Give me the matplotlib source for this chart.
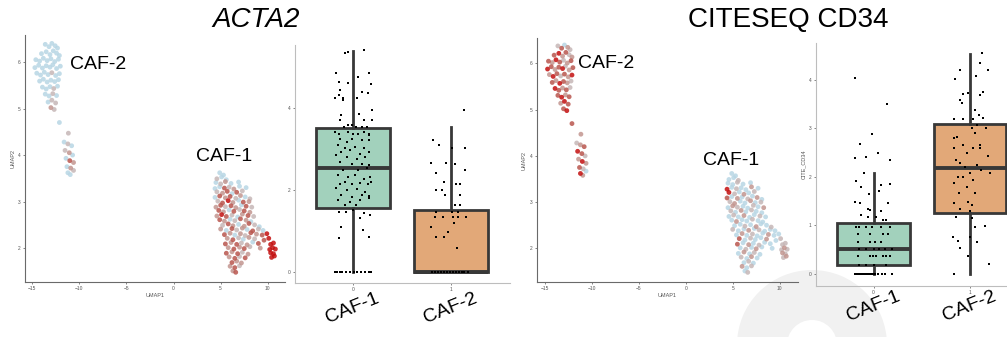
import numpy as np
import matplotlib.pyplot as plt
from matplotlib.colors import LinearSegmentedColormap
from matplotlib.patches import Wedge
from matplotlib.transforms import IdentityTransform, blended_transform_factory

plt.rcParams['font.family'] = ['Liberation Sans', 'DejaVu Sans']

# ------------------------------------------------------------
# UMAP coordinates (same cells in both feature plots)
# ------------------------------------------------------------
caf2_x = [-13.6, -13.2, -12.9, -12.55, -12.3,
          -14.0, -13.5, -13.1, -12.75, -12.4, -12.1,
          -14.6, -14.2, -13.8, -13.4, -13.0, -12.6, -12.2,
          -14.7, -14.3, -13.9, -13.5, -13.1, -12.8, -12.4, -12.0,
          -14.5, -14.1, -13.7, -13.3, -12.9, -12.5, -12.1,
          -14.2, -13.8, -13.4, -13.0, -12.6, -12.2,
          -13.9, -13.5, -13.1, -12.7, -12.3,
          -13.6, -13.2, -12.8, -12.4,
          -13.3, -12.9, -12.5,
          -13.0, -12.65,
          -12.1, -11.15,
          -11.6, -11.2, -10.8, -11.5, -11.05, -10.7, -11.4, -11.0, -10.6,
          -11.3, -10.9, -10.6, -11.2, -10.95]
caf2_y = [6.38, 6.33, 6.40, 6.35, 6.30,
          6.18, 6.22, 6.16, 6.24, 6.19, 6.14,
          6.05, 6.02, 6.08, 6.03, 6.07, 6.01, 6.06,
          5.88, 5.93, 5.87, 5.92, 5.89, 5.94, 5.86, 5.91,
          5.76, 5.72, 5.78, 5.73, 5.77, 5.71, 5.75,
          5.59, 5.63, 5.57, 5.61, 5.58, 5.62,
          5.46, 5.42, 5.47, 5.43, 5.48,
          5.31, 5.27, 5.32, 5.28,
          5.14, 5.18, 5.12,
          5.02, 4.98,
          4.70, 4.47,
          4.28, 4.24, 4.20, 4.10, 4.05, 4.00, 3.93, 3.88, 3.84,
          3.75, 3.72, 3.67, 3.62, 3.58]
caf2_acta2 = [0, 0, 0, 0, 0,
              0, 0, 0, 0, 0, 0,
              0, 0, 0, 0, 0, 0, 0,
              0, 0, 0, 0, 0, 0, 0, 0,
              0, 0, 0, 0, 1, 0, 0,
              0, 0, 0, 0, 0, 0,
              0, 0, 0, 1, 0,
              0, 0, 1, 0,
              0, 1, 1,
              2, 1,
              0, 1,
              0, 1, 0, 1, 2, 0, 0, 3, 2,
              0, 2, 1, 0, 0]
caf2_cd34 = [1, 3, 0, 2, 1,
             3, 4, 2, 3, 1, 2,
             3, 2, 4, 3, 1, 2, 3,
             4, 3, 2, 3, 4, 1, 2, 3,
             2, 4, 3, 1, 3, 2, 4,
             3, 2, 4, 3, 2, 1,
             4, 3, 2, 3, 1,
             3, 4, 2, 3,
             2, 4, 3,
             3, 4,
             3, 2,
             1, 2, 3, 4, 3, 1, 2, 4, 2,
             3, 1, 0, 4, 2]

caf1_x = [4.9, 5.3,
          4.6, 5.1, 5.6,
          4.5, 5.0, 5.5, 6.1, 6.9,
          4.4, 4.9, 5.4, 5.9, 6.4, 7.0, 7.7,
          4.6, 5.2, 5.7, 6.2, 6.7, 7.3,
          4.4, 4.9, 5.5, 6.0, 6.6, 7.1, 7.6, 8.1,
          4.7, 5.2, 5.8, 6.3, 6.9, 7.4, 8.0,
          4.5, 5.0, 5.5, 6.1, 6.6, 7.2, 7.7, 8.3,
          4.8, 5.3, 5.9, 6.4, 7.0, 7.5, 8.1,
          4.6, 5.1, 5.6, 6.2, 6.8, 7.3, 7.9, 8.5,
          4.9, 5.4, 6.0, 6.5, 7.1, 7.7, 8.2,
          5.2, 5.8, 6.3, 6.9, 7.5, 8.0, 8.6, 9.1,
          5.0, 5.6, 6.2, 6.7, 7.3, 7.8, 8.4, 9.0, 9.5,
          5.4, 6.0, 6.5, 7.1, 7.6, 8.2, 8.8, 9.4, 9.9,
          5.7, 6.3, 6.9, 7.4, 8.0, 8.6, 9.6, 10.1,
          5.5, 6.1, 6.7, 7.2, 7.8, 8.4, 9.0, 10.3, 10.6,
          5.8, 6.4, 7.0, 7.5, 8.1, 9.2, 10.2, 10.5, 10.8,
          5.6, 6.2, 6.8, 7.3, 7.9, 10.3, 10.6,
          5.9, 6.5, 7.0, 7.6, 10.4, 10.7,
          6.2, 6.7, 7.2,
          6.0, 6.5, 7.0,
          6.3, 6.6]
caf1_y = [3.62, 3.57,
          3.49, 3.53, 3.47,
          3.41, 3.38, 3.43, 3.39, 3.42,
          3.28, 3.32, 3.29, 3.31, 3.27, 3.33, 3.30,
          3.21, 3.18, 3.22, 3.17, 3.20, 3.23,
          3.09, 3.12, 3.08, 3.11, 3.07, 3.13, 3.10, 3.06,
          3.01, 2.97, 3.02, 2.98, 3.03, 2.99, 3.00,
          2.88, 2.92, 2.89, 2.91, 2.87, 2.93, 2.90, 2.88,
          2.81, 2.78, 2.82, 2.79, 2.83, 2.80, 2.77,
          2.69, 2.72, 2.68, 2.71, 2.67, 2.73, 2.70, 2.68,
          2.61, 2.58, 2.62, 2.59, 2.63, 2.60, 2.57,
          2.49, 2.52, 2.48, 2.51, 2.47, 2.53, 2.50, 2.46,
          2.41, 2.38, 2.42, 2.39, 2.43, 2.40, 2.37, 2.41, 2.38,
          2.29, 2.32, 2.28, 2.31, 2.27, 2.33, 2.30, 2.28, 2.31,
          2.21, 2.18, 2.22, 2.19, 2.23, 2.20, 2.17, 2.21,
          2.09, 2.12, 2.08, 2.11, 2.07, 2.13, 2.10, 2.08, 2.11,
          2.01, 1.98, 2.02, 1.99, 2.03, 2.00, 1.97, 2.01, 1.98,
          1.89, 1.92, 1.88, 1.91, 1.87, 1.90, 1.88,
          1.81, 1.78, 1.82, 1.79, 1.80, 1.83,
          1.69, 1.72, 1.68,
          1.61, 1.58, 1.62,
          1.51, 1.48]
caf1_acta2 = [0, 0,
              1, 0, 0,
              0, 1, 2, 0, 0,
              0, 0, 3, 1, 2, 0, 0,
              1, 2, 3, 0, 3, 1,
              0, 3, 2, 3, 1, 2, 0, 1,
              1, 3, 4, 2, 0, 3, 2,
              2, 3, 1, 3, 2, 0, 3, 1,
              3, 2, 0, 3, 1, 3, 2,
              2, 4, 3, 1, 0, 2, 3, 1,
              3, 2, 0, 1, 3, 2, 0,
              1, 3, 2, 0, 2, 3, 1, 0,
              2, 0, 3, 1, 2, 0, 3, 1, 0,
              3, 2, 0, 2, 1, 3, 2, 3, 4,
              2, 3, 1, 0, 2, 1, 3, 4,
              3, 2, 3, 1, 2, 0, 3, 4, 4,
              2, 3, 2, 3, 1, 2, 4, 4, 4,
              3, 2, 3, 1, 2, 4, 4,
              2, 3, 1, 3, 4, 4,
              3, 2, 2,
              2, 3, 1,
              2, 3]
caf1_cd34 = [0, 0,
             0, 0, 1,
             0, 0, 1, 0, 0,
             4, 0, 1, 0, 0, 2, 0,
             4, 1, 0, 2, 0, 1,
             3, 0, 2, 0, 1, 0, 2, 0,
             1, 2, 0, 0, 2, 0, 1,
             0, 2, 1, 0, 0, 1, 0, 2,
             1, 0, 2, 0, 1, 0, 0,
             0, 1, 0, 2, 0, 0, 1, 0,
             0, 2, 0, 0, 1, 0, 0,
             0, 0, 1, 0, 2, 0, 0, 1,
             1, 0, 0, 2, 0, 1, 0, 0, 0,
             0, 2, 0, 1, 0, 0, 2, 0, 0,
             3, 0, 1, 0, 0, 2, 0, 1,
             3, 0, 2, 0, 1, 0, 0, 1, 1,
             0, 1, 0, 2, 0, 0, 1, 2, 1,
             0, 2, 0, 1, 0, 2, 1,
             1, 0, 2, 0, 1, 2,
             0, 1, 0,
             2, 0, 1,
             0, 1]

# ------------------------------------------------------------
# box plot summaries and jittered cells
# ------------------------------------------------------------
groups = ["CAF-1", "CAF-2"]
cluster_ids = ["0", "1"]

acta2_q1 = [1.56, 0.0]
acta2_med = [2.54, 0.0]
acta2_q3 = [3.51, 1.51]
acta2_lo = [0.0, 0.0]
acta2_hi = [5.39, 3.54]

cd34_q1 = [0.19, 1.26]
cd34_med = [0.52, 2.19]
cd34_q3 = [1.05, 3.09]
cd34_lo = [0.0, 0.0]
cd34_hi = [2.08, 4.54]

acta2_caf1_jit = [-0.08, -0.05, 0.11, -0.17, 0.17, -0.14, 0.05, -0.05, 0.19, -0.13, -0.18, -0.10,
                  -0.14, -0.10, 0.09, 0.15, 0.04, 0.20, -0.12, -0.13, 0.06, 0.11, 0.20, -0.09,
                  -0.05, -0.01, 0.03, 0.09, 0.14,
                  -0.18, -0.14, -0.05, 0.00, 0.05, 0.11, 0.16, 0.17, -0.13, -0.06, -0.01, 0.09,
                  0.17, -0.15, -0.08, 0.02, 0.11, -0.12, -0.03, 0.07, 0.16, -0.17, -0.06, 0.04,
                  0.12, -0.13, -0.01, 0.09, 0.17, -0.10, 0.05, 0.14, -0.15, -0.05, 0.02, 0.11,
                  0.18, -0.13, -0.08, -0.01, 0.07, 0.15, 0.19, -0.17, -0.06, 0.04, 0.12, -0.12,
                  -0.01, 0.09, 0.17, -0.15, -0.03, 0.07, 0.16, -0.08, 0.03,
                  -0.14, -0.07, 0.00, 0.11, 0.18, -0.12, 0.10, -0.14, 0.17, 0.07,
                  -0.18, -0.16, -0.13, -0.11, -0.07, -0.03, 0.01, 0.04, 0.08, 0.12, 0.16, 0.19]
acta2_caf1_val = [5.35, 5.37, 5.41, 4.86, 4.85, 4.64, 4.76, 4.62, 4.60, 4.44, 4.24, 4.24,
                  4.32, 4.20, 4.40, 4.36, 4.24, 3.95, 3.83, 3.72, 3.87, 3.71, 3.71, 3.54,
                  3.59, 3.59, 3.54, 3.54, 3.54,
                  3.42, 3.38, 3.42, 3.38, 3.38, 3.42, 3.37, 3.34, 3.26, 3.18, 3.26, 3.22,
                  3.22, 3.10, 3.02, 3.06, 3.02, 2.94, 2.98, 2.89, 2.94, 2.85, 2.81, 2.77,
                  2.81, 2.69, 2.65, 2.65, 2.61, 2.49, 2.49, 2.53, 2.37, 2.32, 2.37, 2.28,
                  2.32, 2.16, 2.20, 2.15, 2.18, 2.16, 2.20, 2.04, 2.00, 2.02, 1.96, 1.88,
                  1.84, 1.88, 1.85, 1.76, 1.72, 1.76, 1.80, 1.63, 1.63,
                  1.47, 1.47, 1.51, 1.43, 1.39, 1.11, 1.02, 0.84, 0.86, 1.31,
                  0, 0, 0, 0, 0, 0, 0, 0, 0, 0, 0, 0]

acta2_caf2_jit = [0.14, -0.18, -0.12, 0.01, 0.15, -0.20, -0.05, 0.04, 0.15, -0.15, -0.07, 0.09,
                  0.05, -0.09, -0.15, -0.06, 0.09, 0.04, 0.09, -0.15, 0.01, 0.07, -0.16, -0.08,
                  0.02, 0.07, 0.16, 0.03, -0.20, -0.03, -0.15, -0.07, 0.06,
                  -0.19, -0.16, -0.13, -0.10, -0.07, -0.04, -0.01, 0.02, 0.05, 0.08, 0.11, 0.14, 0.18]
acta2_caf2_val = [3.95, 3.22, 3.10, 3.04, 3.02, 2.67, 2.67, 2.63, 2.49, 2.41, 2.20, 2.16,
                  2.16, 2.00, 2.00, 1.88, 1.88, 1.63, 1.63, 1.47, 1.47, 1.47, 1.35, 1.35,
                  1.35, 1.35, 1.35, 1.19, 1.11, 0.98, 0.86, 0.86, 0.58,
                  0, 0, 0, 0, 0, 0, 0, 0, 0, 0, 0, 0, 0]

cd34_caf1_jit = [-0.19, 0.14, -0.02, -0.14, 0.05, -0.19, -0.08, 0.17, -0.10, -0.18, -0.13, 0.08,
                 -0.05, 0.17, 0.06, -0.19, -0.14, -0.06, -0.04, 0.15, 0.08, -0.13, -0.06, 0.03,
                 0.10, 0.13,
                 -0.18, -0.15, -0.08, -0.02, 0.08, 0.17,
                 -0.16, -0.04, 0.10, 0.15,
                 -0.16, -0.04, 0.02, 0.08,
                 -0.15, -0.08, 0.00, 0.06, 0.12, 0.19,
                 -0.16, -0.04, -0.01, 0.03, 0.10, 0.13, 0.17,
                 -0.15, -0.08, 0.01, 0.13,
                 -0.19, -0.17, -0.15, -0.13, -0.11, -0.09, -0.07, -0.05, -0.03, -0.01, 0.02,
                 0.05, 0.09, 0.12, 0.19]
cd34_caf1_val = [4.05, 3.51, 2.88, 2.68, 2.50, 2.40, 2.42, 2.36, 2.08, 1.92, 1.80, 1.83,
                 1.64, 1.85, 1.71, 1.49, 1.46, 1.35, 1.32, 1.46, 1.29, 1.22, 1.18, 1.18,
                 1.11, 1.11,
                 0.96, 0.96, 0.96, 0.96, 0.96, 0.96,
                 0.82, 0.82, 0.82, 0.82,
                 0.65, 0.65, 0.65, 0.65,
                 0.52, 0.52, 0.52, 0.52, 0.52, 0.52,
                 0.37, 0.37, 0.37, 0.37, 0.37, 0.37, 0.37,
                 0.19, 0.19, 0.19, 0.19,
                 0, 0, 0, 0, 0, 0, 0, 0, 0, 0, 0, 0, 0, 0, 0]

cd34_caf2_jit = [0.13, 0.11, -0.10, 0.19, -0.15, 0.06, -0.10, -0.08, -0.07, -0.02, 0.14, 0.10,
                 0.05, -0.17, -0.07, 0.09, 0.14, 0.03, 0.02, -0.16, -0.13, 0.05, -0.07, 0.03,
                 0.10, 0.10, -0.17, -0.03, 0.19, -0.10, 0.12, 0.21, -0.12, -0.07, 0.03, -0.16,
                 -0.03, -0.11, 0.05, -0.02, -0.16, 0.02, -0.10, 0.00, -0.14, 0.02, 0.16, 0.05,
                 -0.18, -0.12, 0.00, 0.07, -0.10, -0.02, 0.20, -0.17, 0.07, 0.17, -0.05, 0.07,
                 -0.14, 0.00]
cd34_caf2_val = [4.55, 4.36, 4.21, 4.21, 4.02, 4.09, 3.59, 3.52, 3.72, 3.74, 3.75, 3.70,
                 3.38, 3.19, 3.19, 3.28, 3.21, 3.19, 3.00, 2.80, 2.82, 2.90, 2.66, 2.59,
                 2.66, 2.59, 2.59, 2.49, 2.43, 2.28, 2.14, 2.08, 2.01, 2.01, 1.94, 1.87,
                 1.80, 1.66, 1.66, 1.49, 1.46, 1.42, 1.35, 1.29, 1.18, 1.15, 0.98, 0.96,
                 0.77, 0.67, 0.77, 0.65, 0.53, 0.38, 0.20, 0.0, 3.07, 3.00, 2.21, 2.25,
                 2.36, 2.08]

# ------------------------------------------------------------
# styling
# ------------------------------------------------------------
expr_cmap = LinearSegmentedColormap.from_list(
    "expr", ["#b8d6e4", "#c6b7b7", "#c29590", "#b9574f", "#c30f0f"])
box_colors = ["#a2d1bc", "#e2a878"]
edge = "#383838"
tick_col = "#555555"


def style_axis(ax, spine_col):
    ax.set_facecolor("none")
    for s in ["top", "right"]:
        ax.spines[s].set_visible(False)
    for s in ["left", "bottom"]:
        ax.spines[s].set_color(spine_col)
        ax.spines[s].set_linewidth(0.8)
    ax.tick_params(labelsize=3.5, colors=tick_col, length=1.5, width=0.5, pad=1.5)


def umap_panel(ax, levels, xlim, ylim, lab2, lab1):
    xs = np.array(caf2_x + caf1_x)
    ys = np.array(caf2_y + caf1_y)
    lv = np.array(levels, dtype=float)
    order = np.argsort(lv, kind="stable")
    ax.scatter(xs[order], ys[order], c=lv[order], cmap=expr_cmap, vmin=0, vmax=4,
               s=12, alpha=0.85, linewidths=0)
    ax.set_xlim(*xlim)
    ax.set_ylim(*ylim)
    ax.set_xticks([-15, -10, -5, 0, 5, 10])
    ax.set_yticks([2, 3, 4, 5, 6])
    ax.set_xlabel("UMAP1", fontsize=4, color=tick_col, labelpad=1)
    ax.set_ylabel("UMAP2", fontsize=4, color=tick_col, labelpad=2)
    style_axis(ax, "#6a6a6a")
    ax.text(lab2[0], lab2[1], "CAF-2", fontsize=14, va="center", ha="left")
    ax.text(lab1[0], lab1[1], "CAF-1", fontsize=14, va="center", ha="left")


def box_panel(ax, q1, med, q3, lo, hi, jits, vals, xlim, ylim, yticks, lab_y, ylabel=None):
    stats = []
    for i in range(2):
        stats.append({"q1": q1[i], "med": med[i], "q3": q3[i],
                      "whislo": lo[i], "whishi": hi[i], "fliers": []})
    bp = ax.bxp(stats, positions=[0, 1], widths=0.75, patch_artist=True,
                showcaps=False, showfliers=False,
                boxprops=dict(linewidth=2.0, edgecolor=edge),
                whiskerprops=dict(linewidth=2.0, color=edge),
                medianprops=dict(linewidth=2.8, color=edge))
    for patch, col in zip(bp["boxes"], box_colors):
        patch.set_facecolor(col)
    for i in range(2):
        ax.scatter(np.array(jits[i]) + i, vals[i], s=4.5, marker="s", color="black",
                   linewidths=0, zorder=4)
    ax.set_xlim(*xlim)
    ax.set_ylim(*ylim)
    ax.set_yticks(yticks)
    ax.set_xticks([0, 1])
    ax.set_xticklabels(cluster_ids)
    style_axis(ax, "#bdbdbd")
    if ylabel:
        ax.set_ylabel(ylabel, fontsize=4, color=tick_col, labelpad=2)
    tr = blended_transform_factory(ax.transData, ax.transAxes)
    for i, g in enumerate(groups):
        ax.text(i, lab_y, g, fontsize=14, rotation=22, ha="center", va="center",
                transform=tr, clip_on=False)


fig = plt.figure(figsize=(10.07, 3.37), dpi=100)

# faint watermark ring in the lower right corner
fig.add_artist(Wedge((812, -8), 75, 0, 360, width=50, transform=IdentityTransform(),
                     facecolor="#f1f1f1", edgecolor="none", zorder=-5))

ax1 = fig.add_axes([0.0248, 0.163, 0.258, 0.733])
ax2 = fig.add_axes([0.293, 0.160, 0.213, 0.706])
ax3 = fig.add_axes([0.533, 0.163, 0.259, 0.724])
ax4 = fig.add_axes([0.810, 0.151, 0.190, 0.721])

umap_panel(ax1, caf2_acta2 + caf1_acta2, (-15.75, 11.8), (1.27, 6.58),
           (-10.96, 5.94), (2.34, 3.96))
umap_panel(ax3, caf2_cd34 + caf1_cd34, (-15.85, 11.9), (1.27, 6.55),
           (-11.49, 6.0), (1.81, 3.9))

box_panel(ax2, acta2_q1, acta2_med, acta2_q3, acta2_lo, acta2_hi,
          [acta2_caf1_jit, acta2_caf2_jit], [acta2_caf1_val, acta2_caf2_val],
          (-0.59, 1.6), (-0.27, 5.54), [0, 2, 4], -0.105)
box_panel(ax4, cd34_q1, cd34_med, cd34_q3, cd34_lo, cd34_hi,
          [cd34_caf1_jit, cd34_caf2_jit], [cd34_caf1_val, cd34_caf2_val],
          (-0.6, 1.385), (-0.25, 4.76), [0, 1, 2, 3, 4], -0.082, ylabel="CITE_CD34")

fig.text(0.254, 0.94, "ACTA2", fontsize=20, style="italic", ha="center", va="center")
fig.text(0.783, 0.94, "CITESEQ CD34", fontsize=20, ha="center", va="center")

fig.savefig("out.png", dpi=100)
